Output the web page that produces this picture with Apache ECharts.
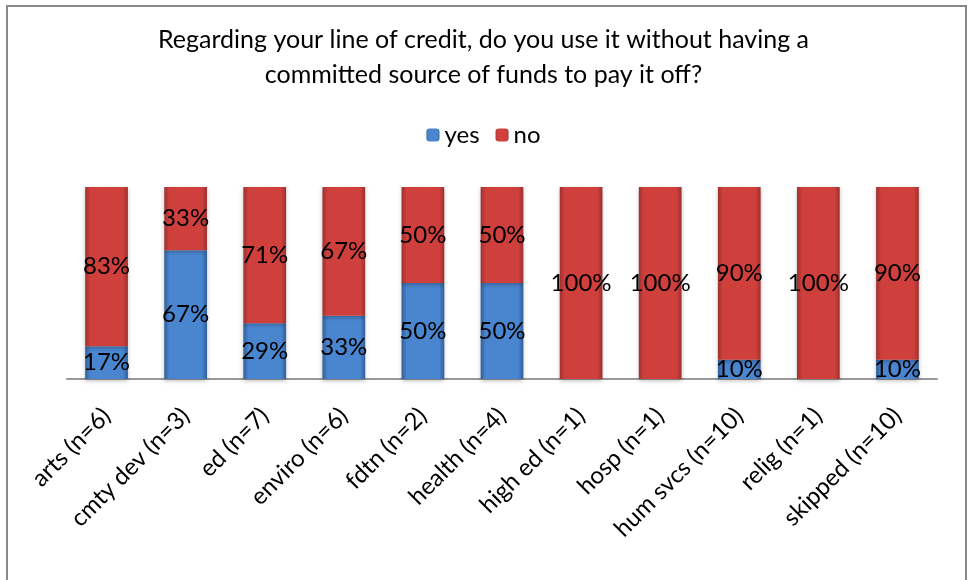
<!DOCTYPE html>
<html><head><meta charset="utf-8">
<script src="https://cdn.jsdelivr.net/npm/echarts@6/dist/echarts.min.js"></script>
<style>html,body{margin:0;padding:0;background:#fff}#c{width:967px;height:580px}</style>
</head><body><div id="c"></div>
<script>
var categories = ["arts (n=6)","cmty dev (n=3)","ed (n=7)","enviro (n=6)","fdtn (n=2)","health (n=4)","high ed (n=1)","hosp (n=1)","hum svcs (n=10)","relig (n=1)","skipped (n=10)"];
var yesValues = [17,67,29,33,50,50,0,0,10,0,10];
var noValues = [83,33,71,67,50,50,100,100,90,100,90];
var titleText = "Regarding your line of credit, do you use it without having a\ncommitted source of funds to pay it off?";
var FONT = "Lato, 'Open Sans', sans-serif";

function grad(edge, mid) {
  return new echarts.graphic.LinearGradient(0,0,1,0,[
    {offset:0,color:edge},{offset:0.12,color:mid},{offset:0.88,color:mid},{offset:1,color:edge}
  ]);
}
var chart = echarts.init(document.getElementById('c'), null, {renderer:'canvas'});
var labelCfg = {show:true, position:'inside', color:'#000', fontSize:24, fontFamily:FONT,
  formatter:function(p){return p.value>0 ? p.value+'%' : '';}};
chart.setOption({
  animation:false,
  backgroundColor:'#fff',
  graphic:[{type:'rect', shape:{x:7,y:6,width:959,height:600}, style:{fill:'none',stroke:'#888',lineWidth:2}}],
  title:{text:titleText, left:'center', top:17, textStyle:{fontFamily:FONT,fontSize:25,fontWeight:'normal',color:'#000',lineHeight:35}},
  legend:{data:['yes','no'], top:118, left:'center', itemWidth:13, itemHeight:13, itemGap:16,
    textStyle:{fontFamily:FONT,fontSize:24,color:'#000'}},
  grid:{left:67, right:30, top:187, bottom:201, containLabel:false},
  xAxis:{type:'category', data:categories,
    axisLine:{lineStyle:{color:'#999',width:2}}, axisTick:{show:false},
    axisLabel:{rotate:45, fontFamily:FONT, fontSize:24, color:'#000', margin:33, interval:0}},
  yAxis:{type:'value', min:0, max:100, show:false},
  series:[
    {name:'yes', type:'bar', stack:'s', data:yesValues, barWidth:'54%',
     itemStyle:{color:grad('#2f5e99','#4a86d0'), shadowColor:'rgba(0,0,0,0.25)', shadowBlur:4, shadowOffsetY:2},
     label:labelCfg},
    {name:'no', type:'bar', stack:'s', data:noValues, barWidth:'54%',
     itemStyle:{color:grad('#9e302d','#cf403d'), shadowColor:'rgba(0,0,0,0.25)', shadowBlur:4, shadowOffsetY:2},
     label:labelCfg}
  ]
});
</script></body></html>
